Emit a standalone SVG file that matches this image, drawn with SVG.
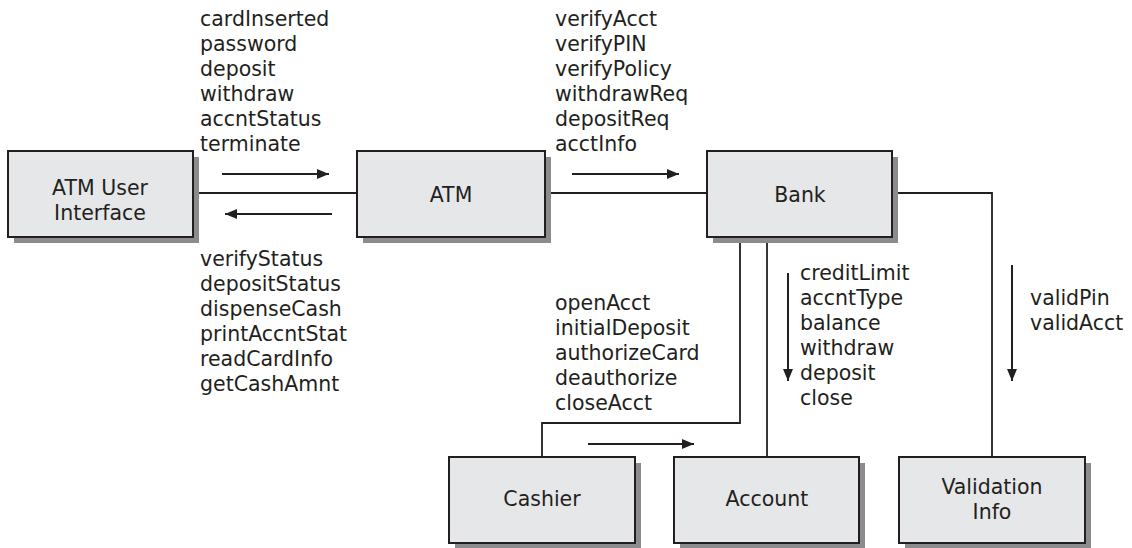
<svg xmlns="http://www.w3.org/2000/svg" width="1132" height="548" viewBox="0 0 1132 548">
<defs>
<style>
.box{fill:#e6e7e8;stroke:#231f20;stroke-width:2}
.sh{fill:#8c8c8e}
.t{font-family:"DejaVu Sans","Liberation Sans",sans-serif;font-size:20.5px;fill:#231f20}
.c{text-anchor:middle}
.ln{fill:none;stroke:#231f20;stroke-width:1.8}
.ar{fill:none;stroke:#231f20;stroke-width:2;marker-end:url(#ah)}
</style>
<marker id="ah" viewBox="0 0 12 10" refX="12" refY="5" markerWidth="12" markerHeight="10" markerUnits="userSpaceOnUse" orient="auto">
<path d="M0,0 L12,5 L0,10 z" fill="#231f20"/>
</marker>
</defs>
<rect width="1132" height="548" fill="#fff"/>
<g id="connectors">
<line class="ln" x1="193" y1="193" x2="357" y2="193"/>
<line class="ln" x1="545" y1="193" x2="707" y2="193"/>
<polyline class="ln" points="542,457 542,423 740,423 740,237"/>
<line class="ln" x1="767" y1="237" x2="767" y2="457"/>
<polyline class="ln" points="892,193 992,193 992,457"/>
<line class="ar" x1="222" y1="174" x2="329" y2="174"/>
<line class="ar" x1="332" y1="214" x2="225" y2="214"/>
<line class="ar" x1="572" y1="174" x2="679" y2="174"/>
<line class="ar" x1="588" y1="444" x2="694" y2="444"/>
<line class="ar" x1="788" y1="273" x2="788" y2="381"/>
<line class="ar" x1="1012" y1="265" x2="1012" y2="381"/>
</g>
<g id="labels">
<text class="t" x="200" y="26">cardInserted</text>
<text class="t" x="200" y="51">password</text>
<text class="t" x="200" y="76">deposit</text>
<text class="t" x="200" y="101">withdraw</text>
<text class="t" x="200" y="126">accntStatus</text>
<text class="t" x="200" y="151">terminate</text>
<text class="t" x="200" y="266">verifyStatus</text>
<text class="t" x="200" y="291">depositStatus</text>
<text class="t" x="200" y="316">dispenseCash</text>
<text class="t" x="200" y="341">printAccntStat</text>
<text class="t" x="200" y="366">readCardInfo</text>
<text class="t" x="200" y="391">getCashAmnt</text>
<text class="t" x="555" y="26">verifyAcct</text>
<text class="t" x="555" y="51">verifyPIN</text>
<text class="t" x="555" y="76">verifyPolicy</text>
<text class="t" x="555" y="101">withdrawReq</text>
<text class="t" x="555" y="126">depositReq</text>
<text class="t" x="555" y="151">acctInfo</text>
<text class="t" x="555" y="310">openAcct</text>
<text class="t" x="555" y="335">initialDeposit</text>
<text class="t" x="555" y="360">authorizeCard</text>
<text class="t" x="555" y="385">deauthorize</text>
<text class="t" x="555" y="410">closeAcct</text>
<text class="t" x="800" y="280">creditLimit</text>
<text class="t" x="800" y="305">accntType</text>
<text class="t" x="800" y="330">balance</text>
<text class="t" x="800" y="355">withdraw</text>
<text class="t" x="800" y="380">deposit</text>
<text class="t" x="800" y="405">close</text>
<text class="t" x="1030" y="305">validPin</text>
<text class="t" x="1030" y="330">validAcct</text>
</g>
<g id="atm-ui">
<rect class="sh" x="14" y="157" width="185" height="86"/>
<rect class="box" x="8" y="151" width="185" height="86"/>
<text class="t c" x="100" y="195">ATM User</text>
<text class="t c" x="100" y="220">Interface</text>
</g>
<g id="atm">
<rect class="sh" x="363" y="157" width="188" height="86"/>
<rect class="box" x="357" y="151" width="188" height="86"/>
<text class="t c" x="451" y="202">ATM</text>
</g>
<g id="bank">
<rect class="sh" x="713" y="157" width="185" height="86"/>
<rect class="box" x="707" y="151" width="185" height="86"/>
<text class="t c" x="800" y="202">Bank</text>
</g>
<g id="cashier">
<rect class="sh" x="455" y="463" width="186" height="85"/>
<rect class="box" x="449" y="457" width="186" height="86"/>
<text class="t c" x="542" y="506">Cashier</text>
</g>
<g id="account">
<rect class="sh" x="680" y="463" width="185" height="85"/>
<rect class="box" x="674" y="457" width="185" height="86"/>
<text class="t c" x="767" y="506">Account</text>
</g>
<g id="validation">
<rect class="sh" x="905" y="463" width="186" height="85"/>
<rect class="box" x="899" y="457" width="186" height="86"/>
<text class="t c" x="992" y="494">Validation</text>
<text class="t c" x="992" y="519">Info</text>
</g>
</svg>
